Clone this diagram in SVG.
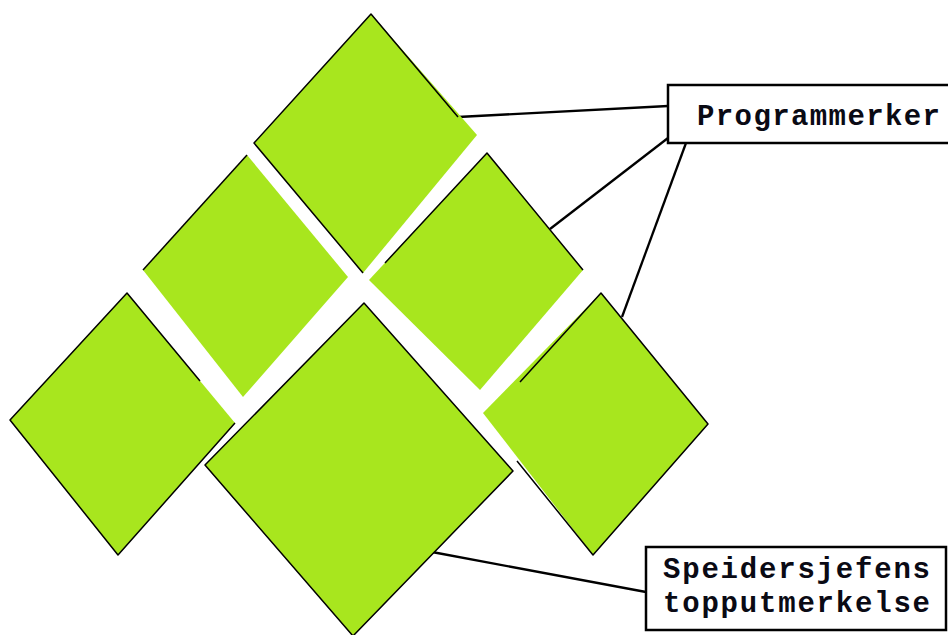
<svg xmlns="http://www.w3.org/2000/svg" width="948" height="635" viewBox="0 0 948 635">
<style>
.d{fill:#a8e61e;stroke:none}
.o{fill:none;stroke:#000;stroke-width:1.5;stroke-linejoin:round}
.c{fill:none;stroke:#000;stroke-width:2.3}
.box{fill:#fff;stroke:#000;stroke-width:2.5}
.t{font-family:"Liberation Mono","DejaVu Sans Mono",monospace;font-weight:bold;font-size:29px;fill:#0a0a14}
</style>
<rect width="948" height="635" fill="#fff"/>
<g id="connectors">
<line class="c" x1="458" y1="117" x2="668" y2="106"/>
<line class="c" x1="550" y1="229" x2="668" y2="138"/>
<line class="c" x1="622" y1="317" x2="686" y2="143"/>
<line class="c" x1="432" y1="552" x2="646" y2="592"/>
</g>
<g id="diamond-top">
<polygon class="d" points="371,14 477,135 363,273 254,143"/>
<polyline class="o" points="363,273 254,143 371,14 458,117"/>
</g>
<g id="diamond-midleft">
<polygon class="d" points="247,155 348,277 243,397 143,270"/>
<polyline class="o" points="143,270 247,155"/>
</g>
<g id="diamond-midright">
<polygon class="d" points="487,153 583,270 480,390 369,280"/>
<polyline class="o" points="385,263 487,153 583,270"/>
</g>
<g id="diamond-left">
<polygon class="d" points="127,293 235,423 118,555 10,420"/>
<polyline class="o" points="200,381 127,293 10,420 118,555 235,423"/>
</g>
<g id="diamond-big">
<polygon class="d o" style="fill:#a8e61e" points="364,303 513,471 353,636 205,465"/>
</g>
<g id="diamond-bottomright">
<polygon class="d" points="601,293 708,424 593,555 483,413"/>
<polyline class="o" points="520,382 601,293 708,424 593,555 517,461"/>
</g>
<g id="label-programmerker">
<rect class="box" x="668" y="85" width="290" height="58"/>
<text class="t" x="697" y="125" textLength="243" lengthAdjust="spacing">Programmerker</text>
</g>
<g id="label-speidersjefens">
<rect class="box" x="646" y="547" width="300" height="83"/>
<text class="t" x="663" y="578" textLength="267" lengthAdjust="spacing">Speidersjefens</text>
<text class="t" x="663" y="612" textLength="267" lengthAdjust="spacing">topputmerkelse</text>
</g>
</svg>
